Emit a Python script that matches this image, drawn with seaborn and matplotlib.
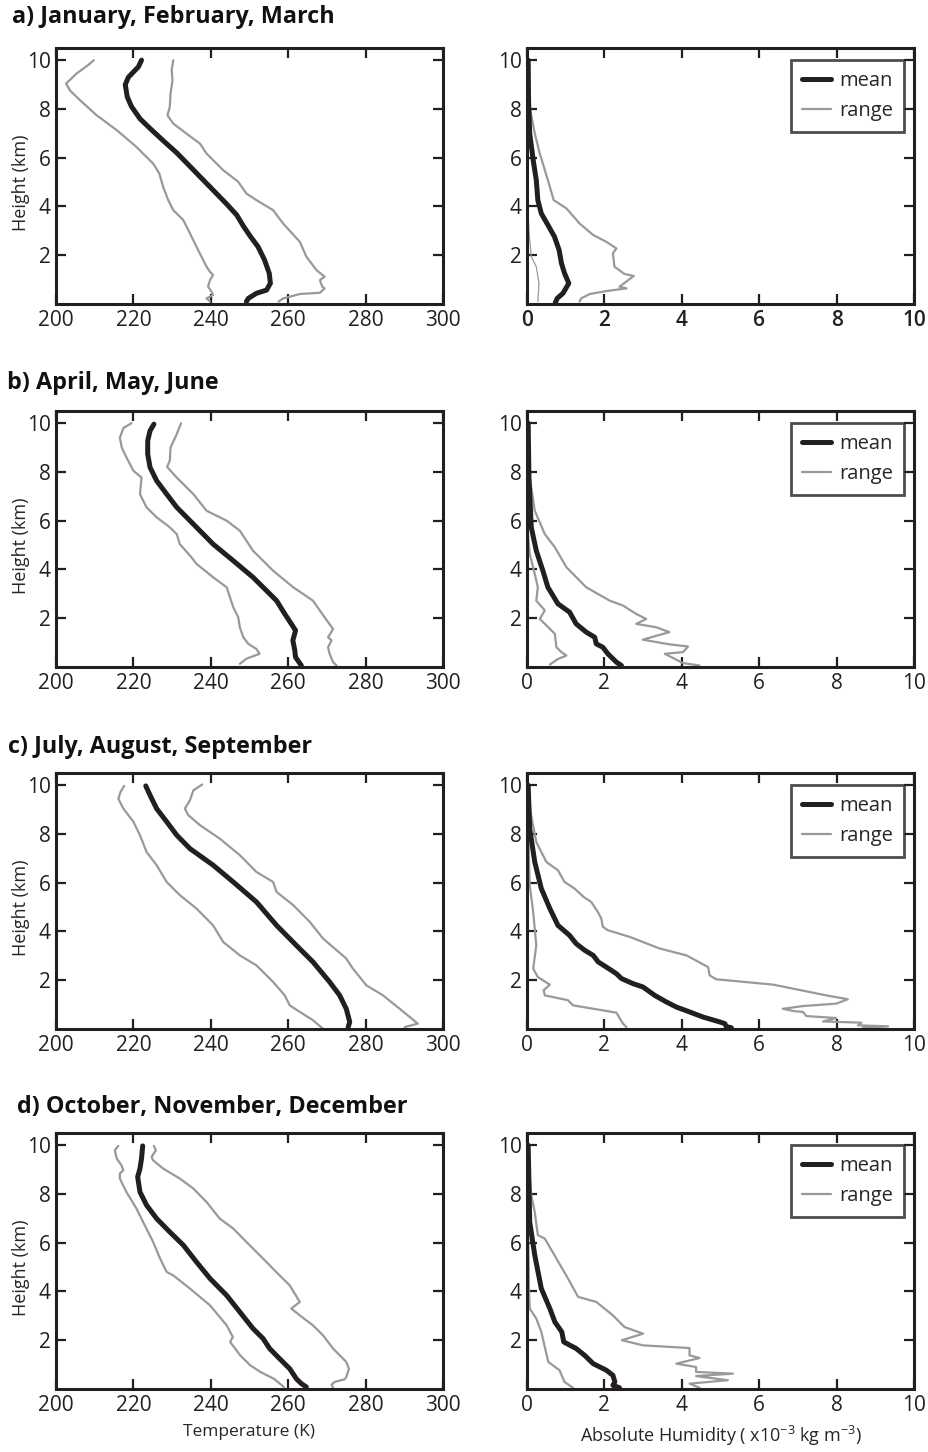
import matplotlib
matplotlib.use("Agg")
import matplotlib.pyplot as plt
import seaborn as sns

# ---------------------------------------------------------------------------
# Seasonal profiles: temperature (K) and absolute humidity (x1e-3 kg m^-3)
# against height (km).  Each curve: values, heights.
# ---------------------------------------------------------------------------

# a) January, February, March -- temperature
jfm_t_mean = [222.1, 221.3, 218.7, 217.9, 218.4, 219.5, 221.7, 224.3, 227.7, 231.2, 235.5,
              239.8, 244.1, 246.7, 248.4, 250.1, 252.2, 253.9, 255.1, 255.4, 254.4, 251.8,
              249.7, 249.2]
jfm_t_mean_h = [10.0, 9.73, 9.3, 9.0, 8.5, 8.1, 7.6, 7.2, 6.7, 6.2, 5.5, 4.8, 4.1, 3.65, 3.2,
                2.8, 2.35, 1.8, 1.26, 0.85, 0.57, 0.44, 0.23, 0.1]
jfm_t_low = [209.8, 208.3, 205.3, 202.6, 203.6, 206.2, 210.5, 215.7, 220.8, 225.1, 226.7,
             227.7, 229.0, 230.3, 232.9, 234.6, 236.3, 237.6, 238.9, 239.8, 240.6, 239.8,
             239.3, 240.2, 240.6, 238.9, 239.8]
jfm_t_low_h = [10.0, 9.8, 9.45, 9.04, 8.76, 8.36, 7.74, 7.13, 6.44, 5.76, 5.35, 4.8, 4.26,
               3.85, 3.44, 2.9, 2.35, 1.94, 1.53, 1.32, 1.19, 0.98, 0.71, 0.5, 0.37, 0.23, 0.1]
jfm_t_high = [230.3, 229.9, 230.1, 229.6, 229.4, 228.8, 230.3, 233.7, 237.2, 238.9, 243.2,
              247.1, 249.2, 251.8, 256.1, 258.7, 263.0, 264.7, 267.3, 269.4, 268.2, 268.8,
              269.4, 268.2, 263.0, 260.4, 258.7, 257.5]
jfm_t_high_h = [10.0, 9.6, 9.17, 8.63, 8.08, 7.74, 7.4, 6.99, 6.58, 6.17, 5.49, 5.01, 4.53,
                4.26, 3.85, 3.3, 2.55, 1.94, 1.39, 1.12, 0.98, 0.71, 0.64, 0.46, 0.41, 0.3,
                0.23, 0.1]

# a) January, February, March -- humidity
jfm_q_mean = [0.03, 0.04, 0.07, 0.16, 0.24, 0.28, 0.37, 0.54, 0.71, 0.83, 0.89, 0.97, 1.08,
              0.93, 0.78, 0.73]
jfm_q_mean_h = [10.0, 8.35, 7.0, 5.9, 5.08, 4.26, 3.71, 3.24, 2.76, 2.21, 1.67, 1.26, 0.85,
                0.44, 0.23, 0.05]
jfm_q_low = [0.0, 0.01, 0.05, 0.11, 0.24, 0.31, 0.28]
jfm_q_low_h = [10.0, 4.26, 3.03, 1.94, 1.53, 0.85, 0.1]
jfm_q_high = [0.0, 0.07, 0.2, 0.33, 0.54, 0.69, 1.02, 1.36, 1.71, 2.05, 2.31, 2.22, 2.26,
              2.52, 2.76, 2.39, 2.57, 2.05, 1.62, 1.40, 1.36]
jfm_q_high_h = [10.0, 8.08, 7.0, 6.17, 5.08, 4.26, 3.92, 3.3, 2.83, 2.55, 2.28, 2.08, 1.53,
                1.23, 1.15, 0.71, 0.64, 0.53, 0.41, 0.23, 0.1]

# b) April, May, June -- temperature
amj_t_mean = [225.3, 224.3, 223.7, 223.7, 224.3, 226.0, 228.6, 231.2, 235.5, 240.6, 245.8,
              250.9, 254.4, 257.0, 259.1, 260.8, 261.9, 261.2, 261.7, 261.9, 263.4]
amj_t_mean_h = [9.96, 9.69, 9.28, 8.73, 8.19, 7.64, 7.09, 6.55, 5.86, 5.04, 4.36, 3.68, 3.13,
                2.72, 2.18, 1.77, 1.5, 1.09, 0.68, 0.4, 0.06]
amj_t_low = [219.5, 217.4, 216.5, 217.0, 218.2, 220.0, 222.1, 221.7, 223.4, 226.0, 229.4,
             231.2, 232.0, 235.0, 236.3, 240.6, 244.1, 245.8, 247.1, 247.5, 248.4, 249.7,
             251.8, 252.6, 249.2, 247.5]
amj_t_low_h = [10.0, 9.8, 9.4, 9.0, 8.6, 8.05, 7.77, 7.09, 6.55, 6.14, 5.73, 5.45, 5.04, 4.5,
               4.23, 3.68, 3.27, 2.45, 2.04, 1.63, 1.22, 0.95, 0.74, 0.54, 0.34, 0.13]
amj_t_high = [232.3, 231.2, 229.6, 229.4, 228.7, 231.2, 235.5, 238.9, 244.1, 247.5, 250.9,
              256.1, 261.3, 266.4, 269.4, 271.6, 270.3, 271.2, 270.3, 270.7, 271.6, 272.5]
amj_t_high_h = [10.0, 9.55, 9.0, 8.46, 8.21, 7.77, 7.09, 6.41, 6.0, 5.59, 4.77, 3.95, 3.27,
                2.72, 2.04, 1.56, 1.22, 1.09, 0.81, 0.54, 0.2, 0.06]

# b) April, May, June -- humidity
amj_q_mean = [0.03, 0.05, 0.11, 0.24, 0.41, 0.54, 0.80, 1.10, 1.27, 1.53, 1.75, 1.79, 1.96,
              2.09, 2.31, 2.44]
amj_q_mean_h = [10.0, 7.78, 5.73, 4.77, 3.95, 3.27, 2.59, 2.25, 1.77, 1.43, 1.22, 0.95, 0.81,
                0.54, 0.2, 0.06]
amj_q_low = [0.0, 0.01, 0.07, 0.2, 0.28, 0.24, 0.46, 0.33, 0.55, 0.72, 0.76, 0.89, 1.02,
             0.80, 0.59]
amj_q_low_h = [10.0, 5.73, 4.64, 3.82, 3.27, 2.72, 2.32, 1.97, 1.63, 1.36, 0.81, 0.61, 0.47,
               0.33, 0.1]
amj_q_high = [0.0, 0.07, 0.2, 0.46, 0.72, 1.02, 1.53, 2.14, 2.48, 2.82, 3.08, 2.82, 3.34,
              3.68, 2.99, 3.68, 4.16, 4.03, 3.56, 4.03, 4.46]
amj_q_high_h = [10.0, 7.78, 6.41, 5.45, 4.91, 4.09, 3.27, 2.72, 2.52, 2.18, 1.97, 1.77, 1.63,
                1.43, 1.12, 0.93, 0.84, 0.61, 0.54, 0.16, 0.06]

# c) July, August, September -- temperature
jas_t_mean = [223.2, 224.3, 226.0, 228.6, 231.2, 234.6, 240.6, 245.8, 251.8, 257.0, 262.1,
              266.4, 270.7, 273.3, 275.0, 275.9, 275.5]
jas_t_mean_h = [9.97, 9.59, 9.04, 8.5, 7.95, 7.4, 6.72, 6.03, 5.21, 4.25, 3.43, 2.75, 1.93,
                1.38, 0.83, 0.29, 0.08]
jas_t_low = [217.6, 216.7, 216.1, 217.4, 220.0, 221.7, 223.4, 226.0, 228.6, 232.0, 236.3,
             240.6, 243.2, 247.5, 251.8, 256.1, 259.1, 260.4, 263.0, 266.4, 269.0]
jas_t_low_h = [9.97, 9.73, 9.45, 9.04, 8.5, 7.95, 7.26, 6.72, 6.03, 5.49, 4.94, 4.25, 3.57,
               3.02, 2.61, 1.93, 1.38, 0.97, 0.70, 0.36, 0.01]
jas_t_high = [237.8, 235.5, 234.6, 233.3, 234.2, 237.2, 242.3, 247.5, 251.8, 256.1, 257.0,
              261.3, 265.6, 269.0, 275.0, 276.7, 280.2, 284.5, 288.8, 293.5, 290.1]
jas_t_high_h = [10.03, 9.79, 9.38, 9.04, 8.77, 8.36, 7.81, 7.13, 6.44, 6.03, 5.62, 5.08, 4.39,
                3.71, 2.89, 2.48, 1.79, 1.38, 0.83, 0.22, 0.08]

# c) July, August, September -- humidity
jas_q_mean = [0.03, 0.07, 0.2, 0.37, 0.59, 0.80, 1.10, 1.27, 1.49, 1.71, 1.84, 2.05, 2.31,
              2.44, 2.74, 3.0, 3.30, 3.60, 3.86, 4.20, 4.55, 4.98, 5.11, 5.15, 5.28]
jas_q_mean_h = [10.0, 8.22, 6.85, 5.76, 4.94, 4.25, 3.84, 3.5, 3.23, 3.02, 2.75, 2.54, 2.27,
                2.07, 1.86, 1.72, 1.38, 1.11, 0.9, 0.70, 0.49, 0.29, 0.22, 0.1, 0.05]
jas_q_low = [0.0, 0.07, 0.16, 0.24, 0.16, 0.28, 0.59, 0.43, 0.46, 1.06, 1.19, 2.31, 2.48, 2.57]
jas_q_low_h = [10.0, 5.9, 4.8, 3.43, 2.48, 2.13, 1.82, 1.59, 1.38, 1.18, 0.97, 0.67, 0.22,
               0.08]
jas_q_high = [0.0, 0.09, 0.24, 0.50, 0.80, 0.97, 1.23, 1.46, 1.66, 1.83, 1.92, 1.96, 2.09,
              2.65, 3.43, 4.12, 4.68, 4.72, 4.89, 6.36, 7.73, 8.29, 7.99, 7.13, 6.61, 6.91,
              7.13, 7.22, 7.99, 7.65, 8.64, 8.55, 9.33, 8.68]
jas_q_high_h = [10.0, 8.9, 7.67, 6.85, 6.51, 6.03, 5.76, 5.42, 5.21, 4.8, 4.53, 4.19, 4.05,
                3.78, 3.3, 3.02, 2.54, 2.2, 2.04, 1.82, 1.38, 1.22, 1.04, 0.94, 0.83, 0.73,
                0.70, 0.53, 0.45, 0.31, 0.26, 0.15, 0.11, 0.05]

# d) October, November, December -- temperature
ond_t_mean = [222.4, 222.1, 221.7, 221.1, 221.7, 223.4, 226.0, 229.4, 232.9, 236.3, 239.8,
              244.1, 247.5, 250.9, 253.5, 255.2, 257.8, 260.4, 262.1, 263.4, 264.7]
ond_t_mean_h = [9.97, 9.45, 9.04, 8.7, 8.08, 7.54, 6.99, 6.44, 5.9, 5.21, 4.53, 3.84, 3.16,
                2.48, 2.07, 1.66, 1.24, 0.83, 0.42, 0.22, 0.08]
ond_t_low = [216.1, 215.2, 215.7, 216.9, 217.4, 216.5, 216.5, 218.2, 220.8, 222.5, 225.1,
             226.9, 228.6, 230.3, 234.6, 239.8, 244.1, 245.7, 245.0, 247.6, 250.2, 252.8,
             256.3, 258.9]
ond_t_low_h = [9.97, 9.79, 9.45, 9.18, 8.97, 8.84, 8.63, 8.08, 7.4, 6.85, 6.03, 5.35, 4.8,
               4.66, 4.12, 3.43, 2.61, 2.13, 1.93, 1.38, 0.97, 0.70, 0.42, 0.08]
ond_t_high = [225.3, 225.8, 224.7, 225.1, 227.7, 232.0, 235.5, 238.9, 242.3, 245.8, 249.2,
              253.5, 256.9, 260.4, 263.0, 260.8, 263.0, 266.4, 269.0, 271.6, 275.0, 275.7,
              275.0, 274.6, 272.0, 271.2, 271.6]
ond_t_high_h = [9.97, 9.79, 9.52, 9.38, 9.04, 8.63, 8.22, 7.67, 6.99, 6.58, 6.03, 5.35, 4.8,
                4.25, 3.57, 3.3, 3.02, 2.61, 2.2, 1.66, 1.11, 0.83, 0.49, 0.4, 0.29, 0.18,
                0.05]

# d) October, November, December -- humidity
ond_q_mean = [0.03, 0.07, 0.2, 0.37, 0.59, 0.72, 0.90, 0.95, 1.27, 1.49, 1.71, 2.05, 2.22,
              2.27, 2.22, 2.39]
ond_q_mean_h = [10.0, 6.85, 5.49, 4.12, 3.30, 2.75, 2.34, 1.93, 1.66, 1.38, 1.04, 0.77, 0.56,
                0.29, 0.15, 0.05]
ond_q_low = [0.0, 0.05, 0.07, 0.24, 0.37, 0.55, 0.84, 0.97, 1.19]
ond_q_low_h = [10.0, 4.12, 3.30, 2.89, 2.34, 1.11, 0.77, 0.29, 0.05]
ond_q_high = [0.0, 0.11, 0.20, 0.28, 0.46, 0.76, 1.06, 1.32, 1.79, 2.22, 2.52, 3.0, 2.45,
              3.0, 4.20, 4.20, 4.46, 3.86, 4.37, 4.37, 5.32, 4.37, 5.19, 4.20, 4.46]
ond_q_high_h = [10.0, 7.95, 7.26, 6.31, 6.17, 5.35, 4.53, 3.78, 3.57, 3.02, 2.54, 2.27, 2.0,
                1.79, 1.68, 1.38, 1.27, 1.04, 0.9, 0.70, 0.63, 0.53, 0.36, 0.22, 0.05]

season_titles = ["a) January, February, March", "b) April, May, June",
                 "c) July, August, September", "d) October, November, December"]

temp_ticks = [200, 220, 240, 260, 280, 300]
hum_ticks = [0, 2, 4, 6, 8, 10]
height_ticks = [2, 4, 6, 8, 10]

temp_profiles = [
    (jfm_t_mean, jfm_t_mean_h, jfm_t_low, jfm_t_low_h, jfm_t_high, jfm_t_high_h),
    (amj_t_mean, amj_t_mean_h, amj_t_low, amj_t_low_h, amj_t_high, amj_t_high_h),
    (jas_t_mean, jas_t_mean_h, jas_t_low, jas_t_low_h, jas_t_high, jas_t_high_h),
    (ond_t_mean, ond_t_mean_h, ond_t_low, ond_t_low_h, ond_t_high, ond_t_high_h),
]
hum_profiles = [
    (jfm_q_mean, jfm_q_mean_h, jfm_q_low, jfm_q_low_h, jfm_q_high, jfm_q_high_h),
    (amj_q_mean, amj_q_mean_h, amj_q_low, amj_q_low_h, amj_q_high, amj_q_high_h),
    (jas_q_mean, jas_q_mean_h, jas_q_low, jas_q_low_h, jas_q_high, jas_q_high_h),
    (ond_q_mean, ond_q_mean_h, ond_q_low, ond_q_low_h, ond_q_high, ond_q_high_h),
]

# ---------------------------------------------------------------------------
sns.set_style("ticks")
plt.rcParams["font.family"] = ["Open Sans", "DejaVu Sans"]
plt.rcParams["mathtext.fontset"] = "custom"
plt.rcParams["mathtext.rm"] = "Open Sans"
plt.rcParams["mathtext.it"] = "Open Sans:italic"
plt.rcParams["mathtext.bf"] = "Open Sans:bold"

MEAN_COLOR = "#231f20"
RANGE_COLOR = "#999999"

fig = plt.figure(figsize=(9.29, 14.52), dpi=100)

W = 387 / 929
H = 256 / 1452
left_x = 56 / 929
right_x = 527 / 929
row_tops = [48, 411, 773, 1133]
title_pos = [(12, 17), (7, 383), (8, 747), (17, 1107)]


def style_axis(ax, xlim, xticks, bold_ticks=False):
    ax.set_xlim(*xlim)
    ax.set_ylim(0, 10.5)
    ax.set_xticks(xticks)
    ax.set_yticks(height_ticks)
    ax.tick_params(direction="in", top=True, right=True, length=7, width=1.6,
                   labelsize=15, pad=4, colors="#231f20")
    if bold_ticks:
        for lab in ax.get_xticklabels():
            lab.set_fontweight("semibold")
    for sp in ax.spines.values():
        sp.set_linewidth(2.2)
        sp.set_color("#231f20")
        sp.set_visible(True)
    ax.set_xlabel("")
    ax.set_ylabel("")


def draw_profile(ax, prof, thin_low=False):
    mean, mean_h, low, low_h, high, high_h = prof
    sns.lineplot(x=low, y=low_h, sort=False, estimator=None, ax=ax, color=RANGE_COLOR,
                 lw=0.9 if thin_low else 1.6)
    sns.lineplot(x=high, y=high_h, sort=False, estimator=None, ax=ax, color=RANGE_COLOR,
                 lw=1.6, label="range" if ax.get_label() == "hum" else None)
    sns.lineplot(x=mean, y=mean_h, sort=False, estimator=None, ax=ax, color=MEAN_COLOR,
                 lw=3.6, label="mean" if ax.get_label() == "hum" else None)


for i in range(4):
    bottom = 1 - (row_tops[i] + 256) / 1452
    ax_t = fig.add_axes([left_x, bottom, W, H], label="temp")
    ax_q = fig.add_axes([right_x, bottom, W, H], label="hum")

    draw_profile(ax_t, temp_profiles[i])
    draw_profile(ax_q, hum_profiles[i], thin_low=(i == 0))

    style_axis(ax_t, (200, 300), temp_ticks)
    style_axis(ax_q, (0, 10), hum_ticks, bold_ticks=(i == 0))
    ax_t.set_ylabel("Height (km)", fontsize=13)
    ax_t.yaxis.set_label_coords(-0.068, 0.475)

    handles, labels = ax_q.get_legend_handles_labels()
    order = [labels.index("mean"), labels.index("range")]
    leg = ax_q.legend([handles[k] for k in order], [labels[k] for k in order],
                      loc="upper right", bbox_to_anchor=(0.975, 0.955), borderaxespad=0,
                      fontsize=14.5, frameon=True, fancybox=False, handlelength=1.45,
                      handletextpad=0.4, labelspacing=0.5, borderpad=0.55)
    leg.get_frame().set_edgecolor("#231f20")
    leg.get_frame().set_linewidth(2.0)

    tx, ty = title_pos[i]
    fig.text(tx / 929, 1 - ty / 1452, season_titles[i], fontsize=16.8, fontweight="bold",
             ha="left", va="center", color="#111111")

    if i == 3:
        ax_t.set_xlabel("Temperature (K)", fontsize=12.5, labelpad=6)
        ax_q.set_xlabel("Absolute Humidity ( x10$^{-3}$ kg m$^{-3}$)", fontsize=13,
                        labelpad=6)

fig.savefig("out.png", dpi=100)
